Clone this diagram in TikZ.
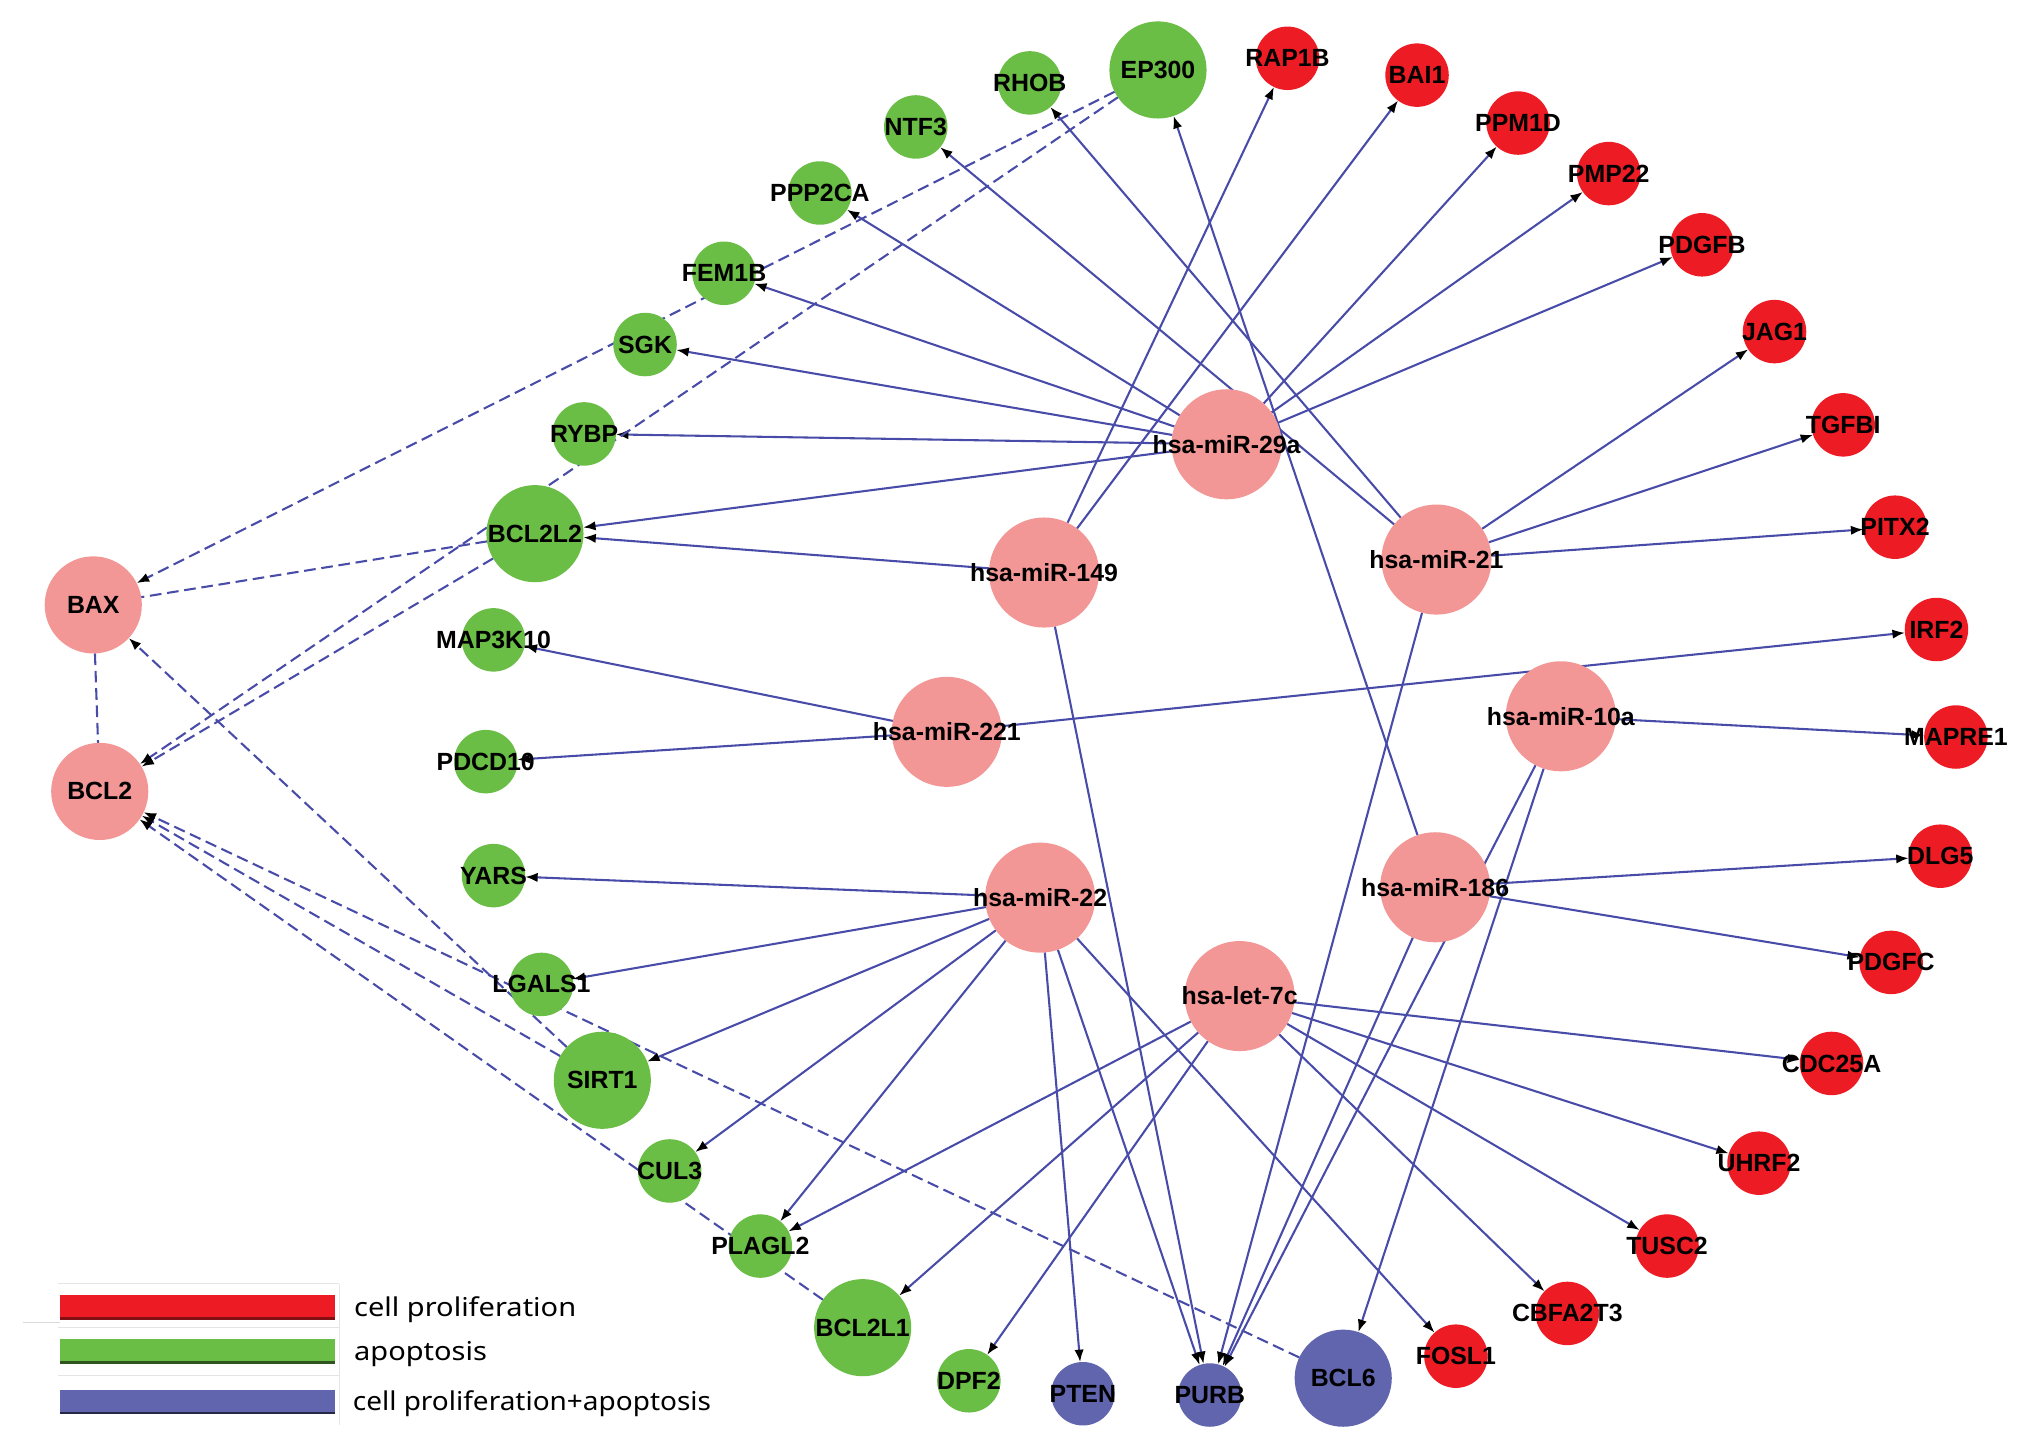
\documentclass[tikz,border=0pt]{standalone}
\usepackage{fontspec}
\usepackage{graphicx}
\newfontfamily\labfont{Liberation Sans}
\newfontfamily\legfont{Noto Sans}
\usetikzlibrary{arrows.meta,backgrounds}
\definecolor{cred}{RGB}{237,28,36}
\definecolor{cgreen}{RGB}{106,189,69}
\definecolor{cpink}{RGB}{243,150,150}
\definecolor{cblue}{RGB}{96,101,174}
\definecolor{cedge}{RGB}{72,76,168}
\tikzset{
  gnode/.style={circle, inner sep=0pt, outer sep=0pt, draw=none},
  lab/.style={font=\labfont\bfseries\fontsize{9.6}{10}\selectfont, text=black, inner sep=0pt},
  txt/.style={label={[lab]center:#1}},
  sm/.style={gnode, minimum size=24.5pt},
  bg/.style={gnode, minimum size=37.5pt},
  mi/.style={gnode, minimum size=42.5pt, fill=cpink},
  pr/.style={fill=cred},
  ap/.style={fill=cgreen},
  cb/.style={fill=cblue},
  pk/.style={fill=cpink},
  reg/.style={draw=cedge, line width=0.8pt, -{Latex[length=4.8pt,width=3.6pt,color=black]}},
  ppi/.style={draw=cedge, line width=0.8pt, dash pattern=on 4.5pt off 2.2pt, -{Latex[length=4.8pt,width=3.6pt,color=black]}},
  ppin/.style={draw=cedge, line width=0.8pt, dash pattern=on 4.5pt off 2.2pt},
  leg/.style={font=\legfont\fontsize{10}{12}\selectfont, text=black, inner sep=0pt, anchor=base west},
  legline/.style={draw=black!10, line width=0.5pt}
}
\begin{document}
\begin{tikzpicture}[x=0.5pt,y=-0.5pt]
\useasboundingbox (0,0) rectangle (1568,1124);
% ---------- miRNA hubs ----------
\node[mi,txt={hsa-miR-29a}] (m29a) at (947,343) {};
\node[mi,txt={hsa-miR-149}] (m149) at (806,442) {};
\node[mi,txt={hsa-miR-21}] (m21) at (1109,432) {};
\node[mi,txt={hsa-miR-221}] (m221) at (731,565) {};
\node[mi,txt={hsa-miR-10a}] (m10a) at (1205,553) {};
\node[mi,txt={hsa-miR-22}] (m22) at (803,693) {};
\node[mi,txt={hsa-miR-186}] (m186) at (1108,685) {};
\node[mi,txt={hsa-let-7c}] (let7c) at (957,769) {};
% ---------- cell proliferation (red) ----------
\node[sm,pr,txt=RAP1B] (RAP1B) at (994,45) {};
\node[sm,pr,txt=BAI1] (BAI1) at (1094,58) {};
\node[sm,pr,txt=PPM1D] (PPM1D) at (1172,95) {};
\node[sm,pr,txt=PMP22] (PMP22) at (1242,134) {};
\node[sm,pr,txt=PDGFB] (PDGFB) at (1314,189) {};
\node[sm,pr,txt=JAG1] (JAG1) at (1370,256) {};
\node[sm,pr,txt=TGFBI] (TGFBI) at (1423,328) {};
\node[sm,pr,txt=PITX2] (PITX2) at (1463,407) {};
\node[sm,pr,txt=IRF2] (IRF2) at (1495,486) {};
\node[sm,pr,txt=MAPRE1] (MAPRE1) at (1510,569) {};
\node[sm,pr,txt=DLG5] (DLG5) at (1498,661) {};
\node[sm,pr,txt=PDGFC] (PDGFC) at (1460,743) {};
\node[sm,pr,txt=CDC25A] (CDC25A) at (1414,821) {};
\node[sm,pr,txt=UHRF2] (UHRF2) at (1358,898) {};
\node[sm,pr,txt=TUSC2] (TUSC2) at (1287,962) {};
\node[sm,pr,txt=CBFA2T3] (CBFA2T3) at (1210,1014) {};
\node[sm,pr,txt=FOSL1] (FOSL1) at (1124,1047) {};
% ---------- apoptosis (green) ----------
\node[bg,ap,txt=EP300] (EP300) at (894,54) {};
\node[sm,ap,txt=RHOB] (RHOB) at (795,64) {};
\node[sm,ap,txt=NTF3] (NTF3) at (707,98) {};
\node[sm,ap,txt=PPP2CA] (PPP2CA) at (633,149) {};
\node[sm,ap,txt=FEM1B] (FEM1B) at (559,211) {};
\node[sm,ap,txt=SGK] (SGK) at (498,266) {};
\node[sm,ap,txt=RYBP] (RYBP) at (451,335) {};
\node[bg,ap,txt=BCL2L2] (BCL2L2) at (413,412) {};
\node[sm,ap,txt=MAP3K10] (MAP3K10) at (381,494) {};
\node[sm,ap,txt=PDCD10] (PDCD10) at (375,588) {};
\node[sm,ap,txt=YARS] (YARS) at (381,676) {};
\node[sm,ap,txt=LGALS1] (LGALS1) at (418,760) {};
\node[bg,ap,txt=SIRT1] (SIRT1) at (465,834) {};
\node[sm,ap,txt=CUL3] (CUL3) at (517,904) {};
\node[sm,ap,txt=PLAGL2] (PLAGL2) at (587,962) {};
\node[bg,ap,txt=BCL2L1] (BCL2L1) at (666,1025) {};
\node[sm,ap,txt=DPF2] (DPF2) at (748,1066) {};
% ---------- both (blue) ----------
\node[sm,cb,txt=PTEN] (PTEN) at (836,1076) {};
\node[sm,cb,txt=PURB] (PURB) at (934,1077) {};
\node[bg,cb,txt=BCL6] (BCL6) at (1037,1064) {};
% ---------- BAX / BCL2 ----------
\node[bg,pk,txt=BAX] (BAX) at (72,467) {};
\node[bg,pk,txt=BCL2] (BCL2) at (77,611) {};
% ---------- edges ----------
\begin{scope}[on background layer]
  % hsa-miR-29a
  \foreach \t in {RYBP,SGK,FEM1B,PPP2CA,BCL2L2,PPM1D,PMP22,PDGFB}
    \draw[reg] (m29a) -- (\t);
  % hsa-miR-149
  \foreach \t in {RAP1B,BAI1,BCL2L2,PURB}
    \draw[reg] (m149) -- (\t);
  % hsa-miR-21
  \foreach \t in {NTF3,RHOB,JAG1,TGFBI,PITX2,PURB}
    \draw[reg] (m21) -- (\t);
  % hsa-miR-221
  \foreach \t in {MAP3K10,PDCD10,IRF2}
    \draw[reg] (m221) -- (\t);
  % hsa-miR-10a
  \foreach \t in {MAPRE1,PURB,BCL6}
    \draw[reg] (m10a) -- (\t);
  % hsa-miR-22
  \foreach \t in {YARS,LGALS1,SIRT1,CUL3,PLAGL2,PTEN,PURB,FOSL1}
    \draw[reg] (m22) -- (\t);
  % hsa-miR-186
  \foreach \t in {EP300,DLG5,PDGFC,PURB}
    \draw[reg] (m186) -- (\t);
  % hsa-let-7c
  \foreach \t in {PLAGL2,BCL2L1,DPF2,CDC25A,UHRF2,TUSC2,CBFA2T3}
    \draw[reg] (let7c) -- (\t);
  % protein interactions
  \draw[ppi] (EP300) -- (BAX);
  \draw[ppi] (EP300) -- (BCL2);
  \draw[ppin] (BCL2L2) -- (BAX);
  \draw[ppi] (BCL2L2) -- (BCL2);
  \draw[ppin] (BAX) -- (BCL2);
  \draw[ppi] (SIRT1) -- (BAX);
  \draw[ppi] (SIRT1) -- (BCL2);
  \draw[ppi] (BCL6) -- (BCL2);
  \draw[ppi] (BCL2L1) -- (BCL2);
\end{scope}
% ---------- legend ----------
\draw[legline] (45,991) -- (262,991);
\draw[legline] (262,991) -- (262,1100);
\draw[legline] (45,1025) -- (262,1025);
\draw[legline] (45,1062) -- (262,1062);
\draw[draw=black!15, line width=0.5pt] (18,1021) -- (46,1021);
\fill[cred] (46,1000) rectangle (259,1019);
\draw[cred!55!black, line width=0.9pt] (46,1018) -- (259,1018);
\fill[cgreen] (46,1034) rectangle (259,1053);
\draw[cgreen!45!black, line width=0.9pt] (46,1052) -- (259,1052);
\fill[cblue] (46,1073) rectangle (259,1092);
\draw[cblue!40!black, line width=0.9pt] (46,1091) -- (259,1091);
\node[leg] (legpro) at (273,1016) {\scalebox{1.12}[1]{cell proliferation}};
\node[leg] (legapo) at (273,1050) {\scalebox{1.12}[1]{apoptosis}};
\node[leg] (legboth) at (272,1089) {\scalebox{1.08}[1]{cell proliferation+apoptosis}};
\end{tikzpicture}
\end{document}
